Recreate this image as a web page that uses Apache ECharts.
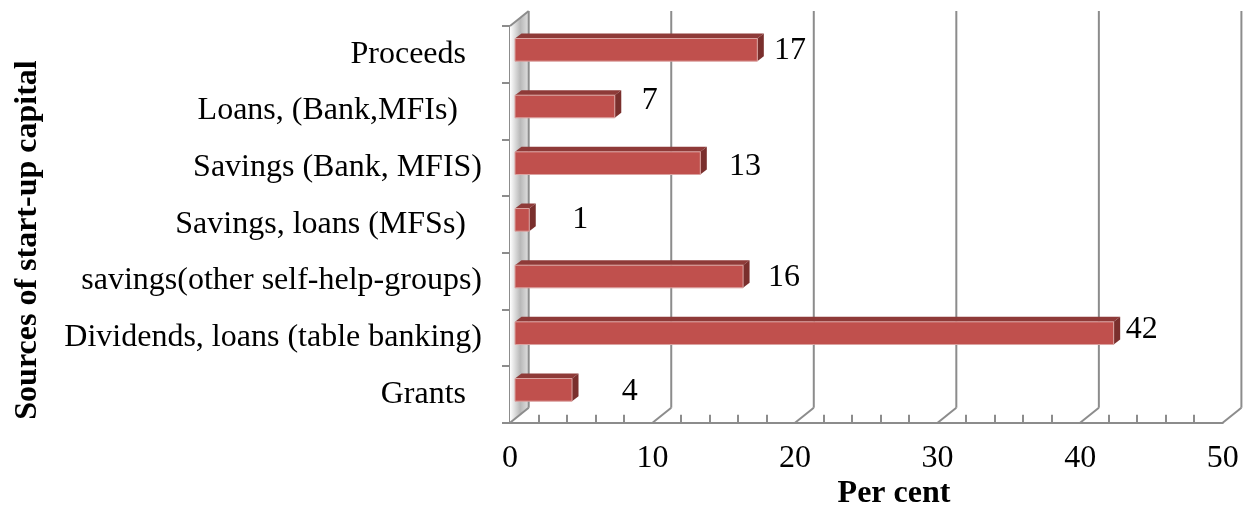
<!DOCTYPE html>
<html><head><meta charset="utf-8">
<script src="https://cdn.jsdelivr.net/npm/echarts@6/dist/echarts.min.js"></script>
<style>html,body{margin:0;padding:0;background:#fff}#c{width:1247px;height:510px}</style>
</head><body><div id="c"></div>
<script>
// ---- data ----
const categories = ['Proceeds  ', 'Loans, (Bank,MFIs)   ', 'Savings (Bank, MFIS)', 'Savings, loans (MFSs)  ', 'savings(other self-help-groups)', 'Dividends, loans (table banking)', 'Grants  '];
const values = [17, 7, 13, 1, 16, 42, 4];
const xTicks = [0, 10, 20, 30, 40, 50];
const xAxisTitle = 'Per cent';
const yAxisTitle = 'Sources of start-up capital';

// ---- styling / layout (not data) ----
const FONT = 'Liberation Serif';
const FS = 32;
const DEPTH = [18.7, -15];       // 3D depth of the plot box
const BAR_OFF = [5, -4.5];       // bar front face offset into depth
const BAR_DEPTH = [6.5, -5];     // bar thickness in depth
const labelNudges = [[32.7,-3.7],[35,-10.6],[44.7,-1],[51,-4.4],[41,-3.3],[28,-7.7],[57.7,-2.3]];
const GRID_COLOR = '#8c8c8c';

function renderFrame(params, api) {
  const v = api.value(0);
  const cs = params.coordSys;
  const top = cs.y, bottom = cs.y + cs.height;
  const x = api.coord([v, 0])[0];
  const bx = x + DEPTH[0], by = bottom + DEPTH[1], ty = top + DEPTH[1];
  const ls = {stroke: GRID_COLOR, lineWidth: 2};
  const children = [];
  if (v === xTicks[0]) {
    children.push({type: 'polygon', shape: {points: [[x, top], [bx, ty], [bx, by], [x, bottom]]},
      style: {fill: {type: 'linear', x: 0, y: 0, x2: 1, y2: 0, colorStops: [
        {offset: 0, color: '#ffffff'}, {offset: 0.55, color: '#b8b8b8'}, {offset: 1, color: '#e0e0e0'}]}}});
    children.push({type: 'line', shape: {x1: x, y1: top, x2: bx, y2: ty}, style: ls});
  }
  children.push({type: 'line', shape: {x1: x, y1: bottom, x2: bx, y2: by}, style: ls});
  children.push({type: 'line', shape: {x1: bx, y1: by, x2: bx, y2: ty}, style: ls});
  return {type: 'group', children: children};
}

function renderBar(params, api) {
  const v = api.value(0), i = api.value(1);
  const p0 = api.coord([0, i]), p1 = api.coord([v, i]);
  const band = api.size([0, 1])[1];
  const h = band * 0.4;
  const x0 = p0[0] + BAR_OFF[0], x1 = p1[0] + BAR_OFF[0];
  const yc = p0[1] + BAR_OFF[1];
  const y0 = yc - h / 2, y1 = yc + h / 2;
  const dx = BAR_DEPTH[0], dy = BAR_DEPTH[1];
  const n = labelNudges[params.dataIndex];
  return {type: 'group', children: [
    {type: 'polygon', shape: {points: [[x0, y0], [x0 + dx, y0 + dy], [x1 + dx, y0 + dy], [x1, y0]]}, style: {fill: '#8e3a38'}},
    {type: 'polygon', shape: {points: [[x1, y0], [x1 + dx, y0 + dy], [x1 + dx, y1 + dy], [x1, y1]]}, style: {fill: '#7a2f2d'}},
    {type: 'rect', shape: {x: x0, y: y0, width: x1 - x0, height: h}, style: {fill: '#c0504d', stroke: '#dba3a1', lineWidth: 1}},
    {type: 'text', style: {text: String(v), x: x1 + n[0], y: p0[1] + n[1], align: 'center', verticalAlign: 'middle',
      fontFamily: FONT, fontSize: FS, fill: '#000'}}
  ]};
}

const chart = echarts.init(document.getElementById('c'), null, {renderer: 'canvas'});
chart.setOption({
  backgroundColor: '#fff',
  animation: false,
  grid: {left: 510, right: 24.3, top: 26, bottom: 87.3, containLabel: false},
  xAxis: {
    type: 'value', min: 0, max: 50, interval: 10,
    axisLine: {show: true, lineStyle: {color: GRID_COLOR, width: 2}},
    axisTick: {show: false, inside: true},
    minorTick: {show: true, splitNumber: 5, length: 8, lineStyle: {color: GRID_COLOR, width: 2}},
    splitLine: {show: false},
    axisLabel: {margin: 20, color: '#000', fontFamily: FONT, fontSize: FS}
  },
  yAxis: {
    type: 'category', data: categories, inverse: true,
    axisLine: {show: true, lineStyle: {color: GRID_COLOR, width: 2}},
    axisTick: {show: true, length: 8, lineStyle: {color: GRID_COLOR, width: 2}},
    splitLine: {show: false},
    axisLabel: {margin: 28, color: '#000', fontFamily: FONT, fontSize: FS}
  },
  graphic: [
    {type: 'text', x: 28, y: 240, rotation: Math.PI / 2,
      style: {text: yAxisTitle, align: 'center', verticalAlign: 'middle', fontFamily: FONT, fontSize: FS, fontWeight: 'bold', fill: '#000'}},
    {type: 'text', x: 894, y: 494,
      style: {text: xAxisTitle, align: 'center', verticalAlign: 'middle', fontFamily: FONT, fontSize: FS, fontWeight: 'bold', fill: '#000'}}
  ],
  series: [
    {type: 'custom', z: 1, silent: true, renderItem: renderFrame, data: xTicks.map(v => [v]), encode: {x: 0}},
    {type: 'custom', z: 3, renderItem: renderBar, data: values.map((v, i) => [v, i]), encode: {x: 0, y: 1}}
  ]
});
</script></body></html>
